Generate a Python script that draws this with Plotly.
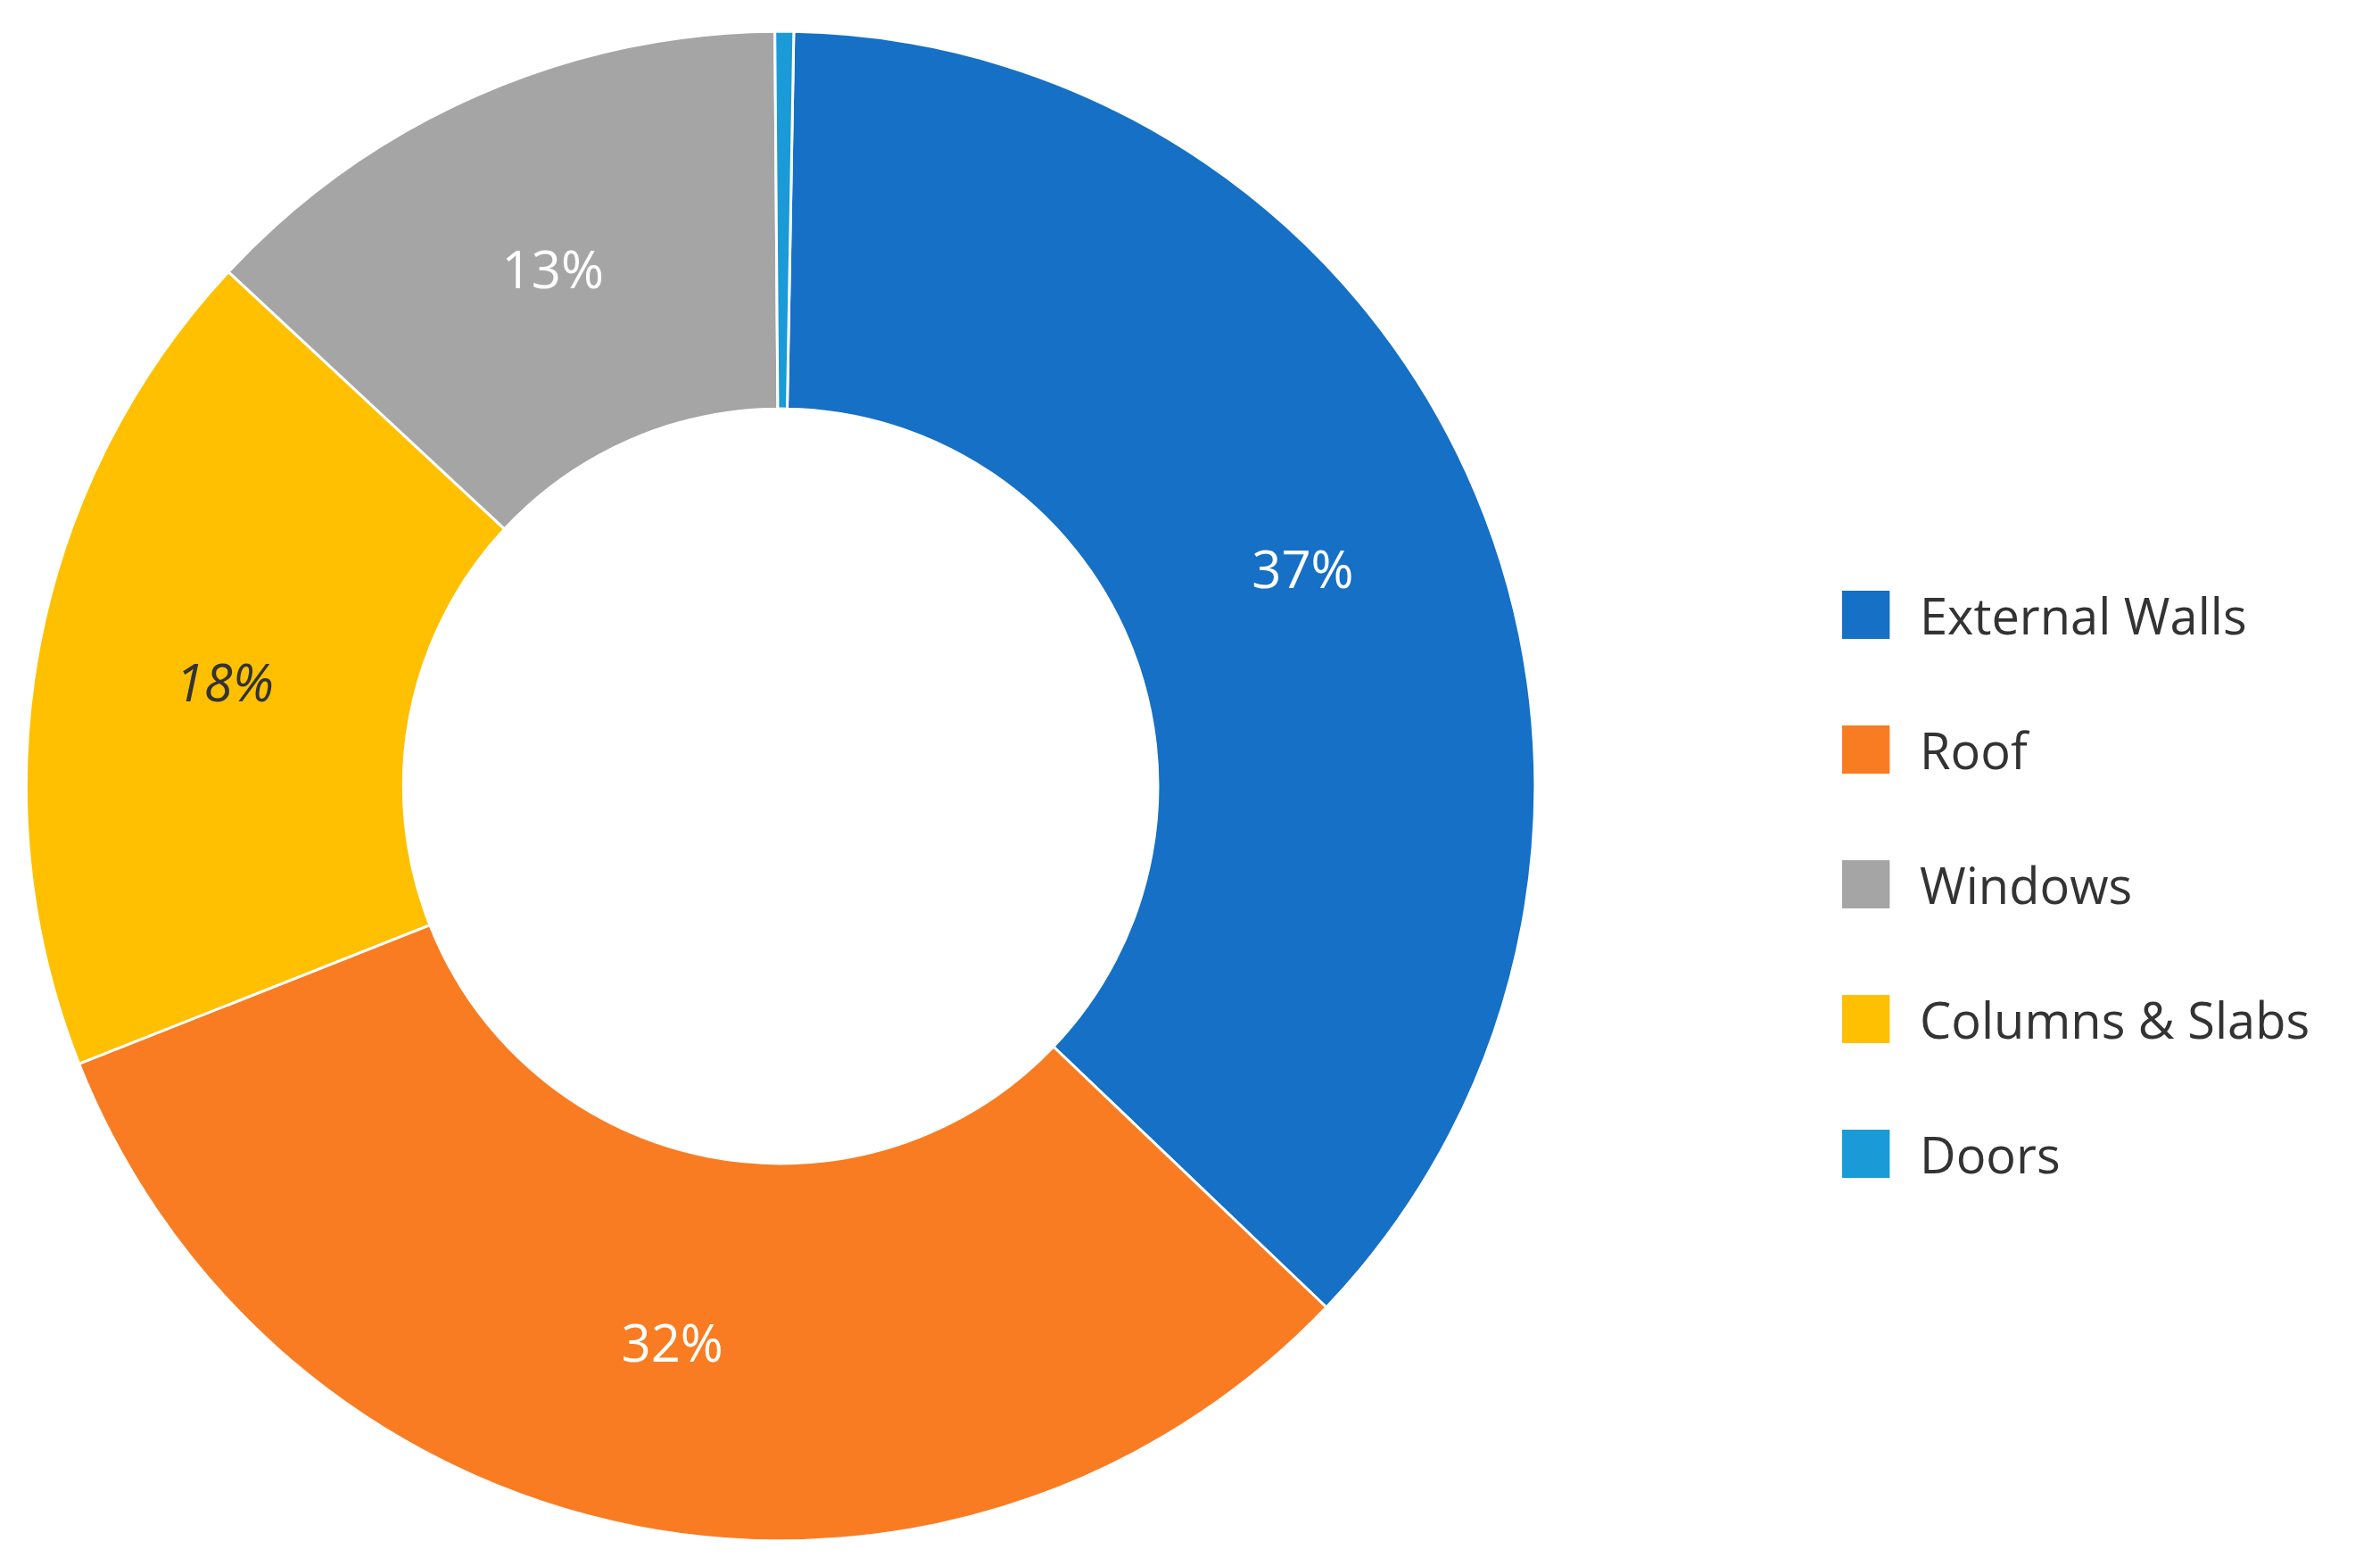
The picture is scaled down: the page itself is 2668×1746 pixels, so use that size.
import plotly.graph_objects as go

slice_labels = ["External Walls", "Roof", "Columns & Slabs", "Windows", "Doors"]
slice_values = [37, 32, 18, 13, 0.4]
slice_colors = ["#1570C6", "#F97C22", "#FEC000", "#A5A5A5", "#1A9AD6"]
slice_text = ["37%", "32%", "<i>18%</i>", "13%", ""]
text_colors = ["white", "white", "#333333", "white", "white"]

legend_order = ["External Walls", "Roof", "Windows", "Columns & Slabs", "Doors"]

fig = go.Figure(go.Pie(
    labels=slice_labels, values=slice_values, sort=False, direction="clockwise",
    rotation=1, hole=0.5, text=slice_text, textinfo="text",
    textposition="inside", insidetextorientation="auto",
    textfont=dict(size=58, color=text_colors, family="Open Sans"),
    marker=dict(colors=slice_colors, line=dict(color="white", width=3)),
    domain=dict(x=[0.008, 0.642], y=[0.015, 0.985]), showlegend=False,
))

cmap = dict(zip(slice_labels, slice_colors))
top, step = 0.61, 0.0865
for i, name in enumerate(legend_order):
    y = top - i * step
    fig.add_shape(type="rect", xref="paper", yref="paper",
                  x0=0.771, x1=0.791, y0=y - 0.0155, y1=y + 0.0155,
                  fillcolor=cmap[name], line=dict(width=0))
    fig.add_annotation(xref="paper", yref="paper", x=0.803, y=y, text=name,
                       showarrow=False, xanchor="left", yanchor="middle",
                       font=dict(size=56, color="#333333", family="Open Sans"))

fig.update_layout(width=2668, height=1746, margin=dict(l=0, r=0, t=0, b=0),
                  paper_bgcolor="white", plot_bgcolor="white")
fig.write_html("out.html")
